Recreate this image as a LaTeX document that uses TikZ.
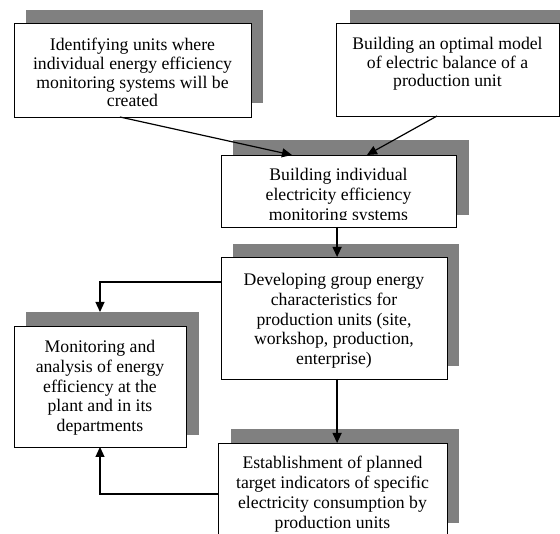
\documentclass[tikz,border=0pt]{standalone}
\usepackage{fontspec}
\setmainfont{Liberation Serif}
\usetikzlibrary{arrows.meta,calc}
\definecolor{shadowgray}{RGB}{128,128,128}
\begin{document}
\begin{tikzpicture}[x=1pt,y=-1pt,
  shadowbox/.style={fill=shadowgray,draw=none,inner sep=0pt,outer sep=0pt},
  frontbox/.style={fill=white,draw=black,line width=0.9pt,inner sep=0pt,outer sep=0pt},
  txt/.style={align=center,inner sep=0pt,anchor=north,font=\fontsize{17.7}{19.8}\selectfont},
  txttop/.style={txt,font=\fontsize{17.7}{18.7}\selectfont},
  arr/.style={line width=1.2pt,-{Triangle[length=10pt,width=9pt]}},
  conn/.style={line width=1.2pt}]
\useasboundingbox (0,0) rectangle (560,534);
\clip (0,0) rectangle (560,534);
% shadows
\node[shadowbox,minimum width=237pt,minimum height=93pt] (s1) at (144.5,56.5) {};
\node[shadowbox,minimum width=222pt,minimum height=93pt] (s2) at (461,56.5) {};
\node[shadowbox,minimum width=236pt,minimum height=75pt] (s3) at (351,177.5) {};
\node[shadowbox,minimum width=226pt,minimum height=122pt] (s4) at (346,305) {};
\node[shadowbox,minimum width=173pt,minimum height=123pt] (s5) at (112.5,373.5) {};
\node[shadowbox,minimum width=228pt,minimum height=94pt] (s6) at (345,476) {};
% front boxes
\node[frontbox,minimum width=237pt,minimum height=94pt] (b1) at (132.5,70) {};
\node[frontbox,minimum width=223pt,minimum height=93pt] (b2) at (447.5,69.5) {};
\node[frontbox,minimum width=235pt,minimum height=72pt] (b3) at (338.5,191) {};
\node[frontbox,minimum width=226pt,minimum height=122pt] (b4) at (334,318) {};
\node[frontbox,minimum width=172pt,minimum height=121pt] (b5) at (100,386.5) {};
\node[frontbox,minimum width=229pt,minimum height=116pt] (b6) at (332.5,501) {};
% texts
\node[txttop] (t1) at ($(b1.north)+(0,15)$) {Identifying units where\\individual energy efficiency\\monitoring systems will be\\created};
\node[txttop] (t2) at ($(b2.north)+(0,14)$) {Building an optimal model\\of electric balance of a\\production unit};
\begin{scope}
\clip (b3.north west) rectangle ($(b3.south east)+(0,-7)$);
\node[txt] (t3) at ($(b3.north)+(0,13)$) {Building individual\\electricity efficiency\\monitoring systems};
\end{scope}
\node[txt] (t4) at ($(b4.north)+(0,16)$) {Developing group energy\\characteristics for\\production units (site,\\workshop, production,\\enterprise)};
\node[txt] (t5) at ($(b5.north)+(0,14)$) {Monitoring and\\analysis of energy\\efficiency at the\\plant and in its\\departments};
\node[txt] (t6) at ($(b6.north)+(0,13)$) {Establishment of planned\\target indicators of specific\\electricity consumption by\\production units};
% connectors
\draw[arr] ($(b1.south west)!0.447!(b1.south east)$) -- ($(b3.north west)!0.302!(b3.north east)$);
\draw[arr] ($(b2.south west)!0.453!(b2.south east)$) -- ($(b3.north west)!0.621!(b3.north east)$);
\coordinate (c34) at ($(b3.south west)!0.494!(b3.south east)$);
\draw[arr] (c34) -- (c34 |- b4.north);
\draw[arr] ($(b4.north west)+(0,25)$) -| (b5.north |- s5.north);
\draw[arr] (c34 |- b4.south) -- (c34 |- b6.north);
\draw[arr] ($(b6.north west)+(0,51)$) -| (b5.south);
\end{tikzpicture}
\end{document}
